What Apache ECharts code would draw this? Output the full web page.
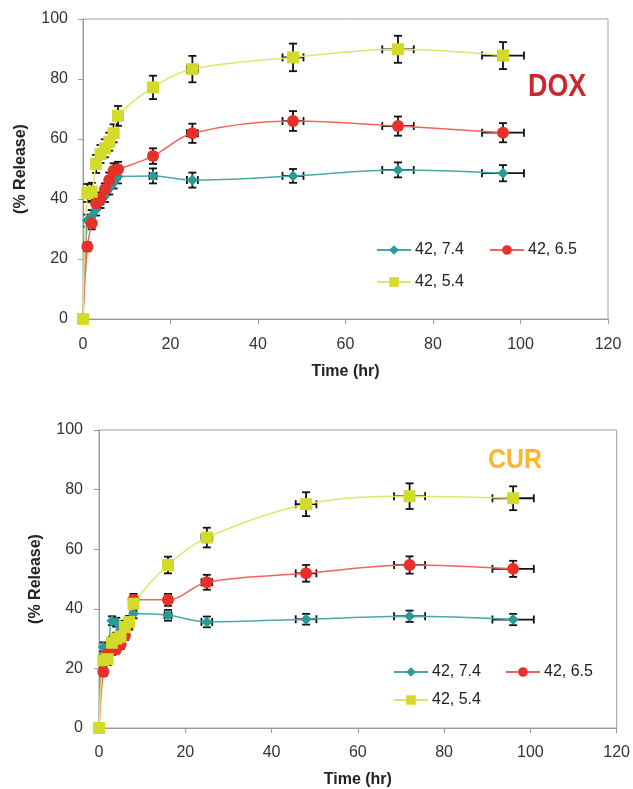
<!DOCTYPE html>
<html>
<head>
<meta charset="utf-8">
<script src="https://cdn.jsdelivr.net/npm/echarts@6/dist/echarts.min.js"></script>
<style>
html,body{margin:0;padding:0;background:#fff;}
#c{width:633px;height:789px;}
</style>
</head>
<body>
<div id="c"></div>
<script>
// ---- data ----
var times = [0, 1, 2, 3, 4, 5, 6, 7, 8, 16, 25, 48, 72, 96];
var timeErr = [0, 0.05, 0.1, 0.15, 0.2, 0.25, 0.3, 0.35, 0.4, 0.8, 1.25, 2.4, 3.6, 4.8];
var seriesNames = ['42, 7.4', '42, 6.5', '42, 5.4'];
var xTicks = [0, 20, 40, 60, 80, 100, 120];
var yTicks = [0, 20, 40, 60, 80, 100];

var dox74 = [0, 32.8, 34.3, 36.5, 39, 41, 43.5, 45.5, 47.5, 47.7, 46.3, 47.7, 49.7, 48.6];
var dox65 = [0, 24.1, 31.9, 38.6, 40.2, 43.2, 46.3, 49.4, 49.9, 54.3, 61.9, 66, 64.3, 62.1];
var dox54 = [0, 42, 42.4, 51.7, 55, 56.9, 59.1, 61.9, 67.7, 77.2, 83.3, 87.2, 89.9, 87.8];
var dox74Err = [0.5, 2, 2, 2, 2, 2, 2, 2, 2.3, 2.5, 2.5, 2.3, 2.5, 2.7];
var dox65Err = [0.5, 1.5, 2, 2, 2, 2, 2.5, 2.5, 2.5, 2.6, 3.2, 3.3, 3.2, 3.2];
var dox54Err = [0.5, 3, 3, 3, 3, 3, 3, 3, 3.3, 3.9, 4.4, 4.6, 4.5, 4.5];

var cur74 = [0, 27.2, 27, 36, 35.5, 33, 34.5, 36, 38.3, 37.8, 35.6, 36.5, 37.5, 36.4];
var cur65 = [0, 18.9, 25, 26, 26.5, 28, 31, 35, 43, 43, 48.9, 51.9, 54.7, 53.4];
var cur54 = [0, 22.7, 23.1, 28.6, 30, 30.6, 33.9, 35.6, 41.7, 54.7, 63.9, 75.1, 77.8, 77.1];
var cur74Err = [0.5, 1.5, 1.5, 1.5, 1.5, 1.5, 1.5, 1.5, 1.5, 1.8, 1.8, 1.8, 1.9, 1.9];
var cur65Err = [0.5, 1.5, 1.5, 1.5, 1.5, 1.5, 1.5, 2, 2, 2, 2.5, 2.8, 2.9, 2.7];
var cur54Err = [0.5, 2, 2, 2, 2, 2, 2, 2, 2.5, 2.8, 3.3, 4, 4.3, 4];

// ---- styles ----
var FONT = 'Liberation Sans';
var styles = [
  {symbol: 'diamond', size: 11, color: '#2a9a97', line: '#4aa7a6'},
  {symbol: 'circle', size: 12, color: '#e8302a', line: '#f0645a'},
  {symbol: 'rect', size: 12, color: '#d3da2a', line: '#e2e46a'}
];

function pairs(ys) { return times.map(function (t, i) { return [t, ys[i]]; }); }
function errData(ys, errs) { return times.map(function (t, i) { return [t, ys[i], timeErr[i], errs[i]]; }); }

function lineSeries(idx, ys, gi) {
  var s = styles[idx];
  return {
    type: 'line', name: seriesNames[idx], xAxisIndex: gi, yAxisIndex: gi,
    data: pairs(ys), smooth: 0.35, symbol: s.symbol, symbolSize: s.size,
    itemStyle: {color: s.color, borderWidth: 0},
    lineStyle: {color: s.line, width: 1.5},
    z: 3, animation: false
  };
}

function errSeries(ys, errs, gi) {
  return {
    type: 'custom', xAxisIndex: gi, yAxisIndex: gi, silent: true, z: 2,
    data: errData(ys, errs),
    renderItem: function (params, api) {
      var x = api.value(0), y = api.value(1), dx = api.value(2), dy = api.value(3);
      var top = api.coord([x, y + dy]);
      var bot = api.coord([x, y - dy]);
      var lft = api.coord([x - dx, y]);
      var rgt = api.coord([x + dx, y]);
      var cap = 4;
      var st = {stroke: '#111', lineWidth: 1.8};
      var ch = [
        {type: 'line', shape: {x1: top[0], y1: top[1], x2: bot[0], y2: bot[1]}, style: st},
        {type: 'line', shape: {x1: top[0] - cap, y1: top[1], x2: top[0] + cap, y2: top[1]}, style: st},
        {type: 'line', shape: {x1: bot[0] - cap, y1: bot[1], x2: bot[0] + cap, y2: bot[1]}, style: st},
        {type: 'line', shape: {x1: lft[0], y1: lft[1], x2: rgt[0], y2: rgt[1]}, style: st},
        {type: 'line', shape: {x1: lft[0], y1: lft[1] - cap, x2: lft[0], y2: lft[1] + cap}, style: st},
        {type: 'line', shape: {x1: rgt[0], y1: rgt[1] - cap, x2: rgt[0], y2: rgt[1] + cap}, style: st}
      ];
      return {type: 'group', children: ch};
    },
    animation: false
  };
}

function xAxis(gi, gap, margin) {
  return {
    type: 'value', gridIndex: gi, min: xTicks[0], max: xTicks[xTicks.length - 1], interval: 20,
    name: 'Time (hr)', nameLocation: 'middle', nameGap: gap,
    nameTextStyle: {fontFamily: FONT, fontWeight: 'bold', fontSize: 16, color: '#222'},
    axisLine: {show: true, lineStyle: {color: '#9a9a9a', width: 1}},
    axisTick: {show: true, length: 5, lineStyle: {color: '#9a9a9a'}},
    axisLabel: {fontFamily: FONT, fontSize: 16, color: '#333', margin: margin},
    splitLine: {show: false}
  };
}
function yAxis(gi, gap, margin) {
  return {
    type: 'value', gridIndex: gi, min: yTicks[0], max: yTicks[yTicks.length - 1], interval: 20,
    name: '(% Release)', nameLocation: 'middle', nameGap: gap, nameRotate: 90,
    nameTextStyle: {fontFamily: FONT, fontWeight: 'bold', fontSize: 16, color: '#222'},
    axisLine: {show: true, lineStyle: {color: '#9a9a9a', width: 1}},
    axisTick: {show: true, length: 5, lineStyle: {color: '#9a9a9a'}},
    axisLabel: {fontFamily: FONT, fontSize: 16, color: '#333', margin: margin},
    splitLine: {show: false}
  };
}

function legend(name, left, top) {
  return {
    data: [name], left: left, top: top, orient: 'horizontal',
    itemWidth: 34, itemHeight: 12, itemGap: 0, padding: 0,
    textStyle: {fontFamily: FONT, fontSize: 16, color: '#222', padding: [0, 0, 0, -1]},
    selectedMode: false
  };
}

var option = {
  backgroundColor: '#fff',
  animation: false,
  grid: [
    {left: 83, right: 25, top: 19, bottom: 470, show: true, borderColor: '#a0a0a0', borderWidth: 1, containLabel: false},
    {left: 99, right: 10, top: 430, bottom: 59, show: true, borderColor: '#a0a0a0', borderWidth: 1, containLabel: false}
  ],
  xAxis: [xAxis(0, 45, 18), xAxis(1, 44, 17)],
  yAxis: [yAxis(0, 54, 15), yAxis(1, 55, 16)],
  legend: [
    legend(seriesNames[0], 376, 242),
    legend(seriesNames[1], 489, 242),
    legend(seriesNames[2], 376, 274),
    legend(seriesNames[0], 393, 664),
    legend(seriesNames[1], 505, 664),
    legend(seriesNames[2], 393, 692)
  ],
  graphic: [
    {type: 'text', left: 528, top: 71, scaleX: 0.84, style: {text: 'DOX', fontFamily: FONT, fontWeight: 'bold', fontSize: 32, fill: '#c8282e'}},
    {type: 'text', left: 488, top: 446, scaleX: 0.89, style: {text: 'CUR', fontFamily: FONT, fontWeight: 'bold', fontSize: 28, fill: '#f9b632'}}
  ],
  series: [
    errSeries(dox74, dox74Err, 0),
    errSeries(dox65, dox65Err, 0),
    errSeries(dox54, dox54Err, 0),
    lineSeries(0, dox74, 0),
    lineSeries(1, dox65, 0),
    lineSeries(2, dox54, 0),
    errSeries(cur74, cur74Err, 1),
    errSeries(cur65, cur65Err, 1),
    errSeries(cur54, cur54Err, 1),
    lineSeries(0, cur74, 1),
    lineSeries(1, cur65, 1),
    lineSeries(2, cur54, 1)
  ]
};

var chart = echarts.init(document.getElementById('c'), null, {renderer: 'canvas'});
chart.setOption(option);
</script>
</body>
</html>
